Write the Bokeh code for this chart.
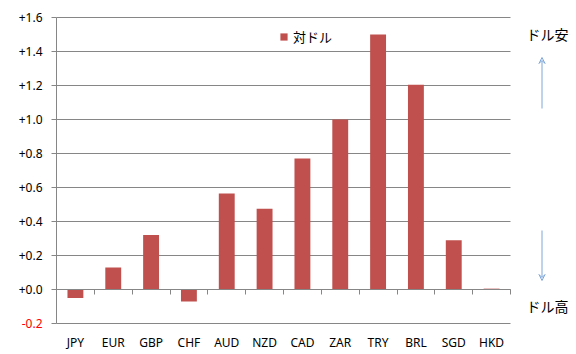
import numpy as np
from bokeh.plotting import figure
from bokeh.models import Range1d, FixedTicker, Arrow, VeeHead, LinearAxis
from bokeh.core.properties import value
from bokeh.embed import file_html
from bokeh.resources import INLINE

categories = ["JPY", "EUR", "GBP", "CHF", "AUD", "NZD", "CAD", "ZAR", "TRY", "BRL", "SGD", "HKD"]
values = [-0.05, 0.13, 0.32, -0.07, 0.565, 0.475, 0.77, 1.0, 1.5, 1.205, 0.29, 0.005]
y_ticks = [-0.2, 0.0, 0.2, 0.4, 0.6, 0.8, 1.0, 1.2, 1.4, 1.6]
y_tick_labels = ["-0.2", "+0.0", "+0.2", "+0.4", "+0.6", "+0.8", "+1.0", "+1.2", "+1.4", "+1.6"]
series_name = "対ドル"
up_label = "ドル安"
down_label = "ドル高"

BAR = "#C0504D"
GRID = "#868686"
ARROW = "#7EA6D8"
JP = "Noto Sans CJK JP"
NUM = "Noto Sans"

W, H = 576, 354
# plot-area box in pixels (left, right, top, bottom)
FL, FR, FT, FB = 56, 510, 17, 323

n = len(categories)
xs = np.arange(n)
x_lo, x_hi = -0.5, n - 0.5
y_lo, y_hi = y_ticks[0], y_ticks[-1]
ppx = (FR - FL) / (x_hi - x_lo)
ppy = (FB - FT) / (y_hi - y_lo)

def px_x(px):
    return x_lo + (px - FL) / ppx

def px_y(py):
    return y_lo + (FB - py) / ppy

p = figure(width=W, height=H, output_backend="svg", toolbar_location=None,
           x_range=Range1d(px_x(0), px_x(W)), y_range=Range1d(px_y(H), px_y(0)),
           min_border=0, min_border_left=0, min_border_right=0, min_border_top=0, min_border_bottom=0)
p.outline_line_color = None
p.xgrid.grid_line_color = None
p.ygrid.grid_line_color = None

# horizontal gridlines over the category span
p.segment(x0=[x_lo] * len(y_ticks), y0=y_ticks, x1=[x_hi] * len(y_ticks), y1=y_ticks,
          line_color=GRID, line_width=1)

# y axis at the left edge of the category span
ya = p.yaxis[0]
ya.fixed_location = x_lo
ya.bounds = (y_lo, y_hi)
ya.ticker = FixedTicker(ticks=y_ticks)
ov = {v: lab for v, lab in zip(y_ticks, y_tick_labels)}
ov[y_ticks[0]] = ""
ya.major_label_overrides = ov
ya.axis_line_color = GRID
ya.major_tick_line_color = GRID
ya.major_tick_out = 5
ya.major_tick_in = 0
ya.minor_tick_line_color = None
ya.major_label_standoff = 9
ya.major_label_text_font = NUM
ya.major_label_text_font_size = "12px"
ya.major_label_text_color = "black"

# red label for the negative tick
neg = [v for v in y_ticks if v < 0]
neg_lab = [lab for v, lab in zip(y_ticks, y_tick_labels) if v < 0]
p.text(x=[x_lo] * len(neg), y=neg, text=neg_lab, x_offset=-14, text_align="right",
       text_baseline="middle", text_color="red", text_font=value(NUM), text_font_size="12px")

# category labels below the bottom gridline
xa = p.xaxis[0]
xa.fixed_location = y_lo
xa.ticker = FixedTicker(ticks=list(xs))
xa.major_label_overrides = {int(i): c for i, c in zip(xs, categories)}
xa.axis_line_color = None
xa.major_tick_line_color = None
xa.major_tick_out = 0
xa.major_tick_in = 0
xa.minor_tick_line_color = None
xa.minor_tick_out = 0
xa.major_label_standoff = 10
xa.major_label_text_font = NUM
xa.major_label_text_font_size = "12px"
xa.major_label_text_color = "black"

# zero axis with tick marks between categories
za = LinearAxis(fixed_location=0, bounds=(x_lo, x_hi),
                ticker=FixedTicker(ticks=list(np.arange(n + 1) - 0.5)))
za.axis_line_color = GRID
za.major_tick_line_color = GRID
za.major_tick_out = 5
za.major_tick_in = 0
za.minor_tick_line_color = None
za.major_label_text_font_size = "0px"
za.major_label_text_alpha = 0
p.add_layout(za, "below")

# bars
p.vbar(x=xs, top=values, bottom=0, width=0.42, fill_color=BAR, line_color=None,
       legend_label=series_name)

lg = p.legend[0]
lg.location = (279, 308)
lg.background_fill_alpha = 0
lg.border_line_color = None
lg.padding = 0
lg.margin = 0
lg.glyph_width = 9
lg.glyph_height = 9
lg.label_standoff = 5
lg.label_text_font = JP
lg.label_text_font_size = "13px"
lg.label_text_color = "black"

# direction notes on the right
p.text(x=[px_x(547)] * 2, y=[px_y(33), px_y(305)], text=[up_label, down_label],
       text_align="center", text_baseline="middle", text_font=value(JP),
       text_font_size="14px", text_color="black")
p.add_layout(Arrow(x_start=px_x(541.5), y_start=px_y(108), x_end=px_x(541.5), y_end=px_y(57),
                   line_color=ARROW, line_width=1,
                   end=VeeHead(size=6, line_color=ARROW, line_width=1, fill_alpha=0)))
p.add_layout(Arrow(x_start=px_x(541.5), y_start=px_y(230), x_end=px_x(541.5), y_end=px_y(280),
                   line_color=ARROW, line_width=1,
                   end=VeeHead(size=6, line_color=ARROW, line_width=1, fill_alpha=0)))

open("out.html", "w").write(file_html(p, INLINE))
